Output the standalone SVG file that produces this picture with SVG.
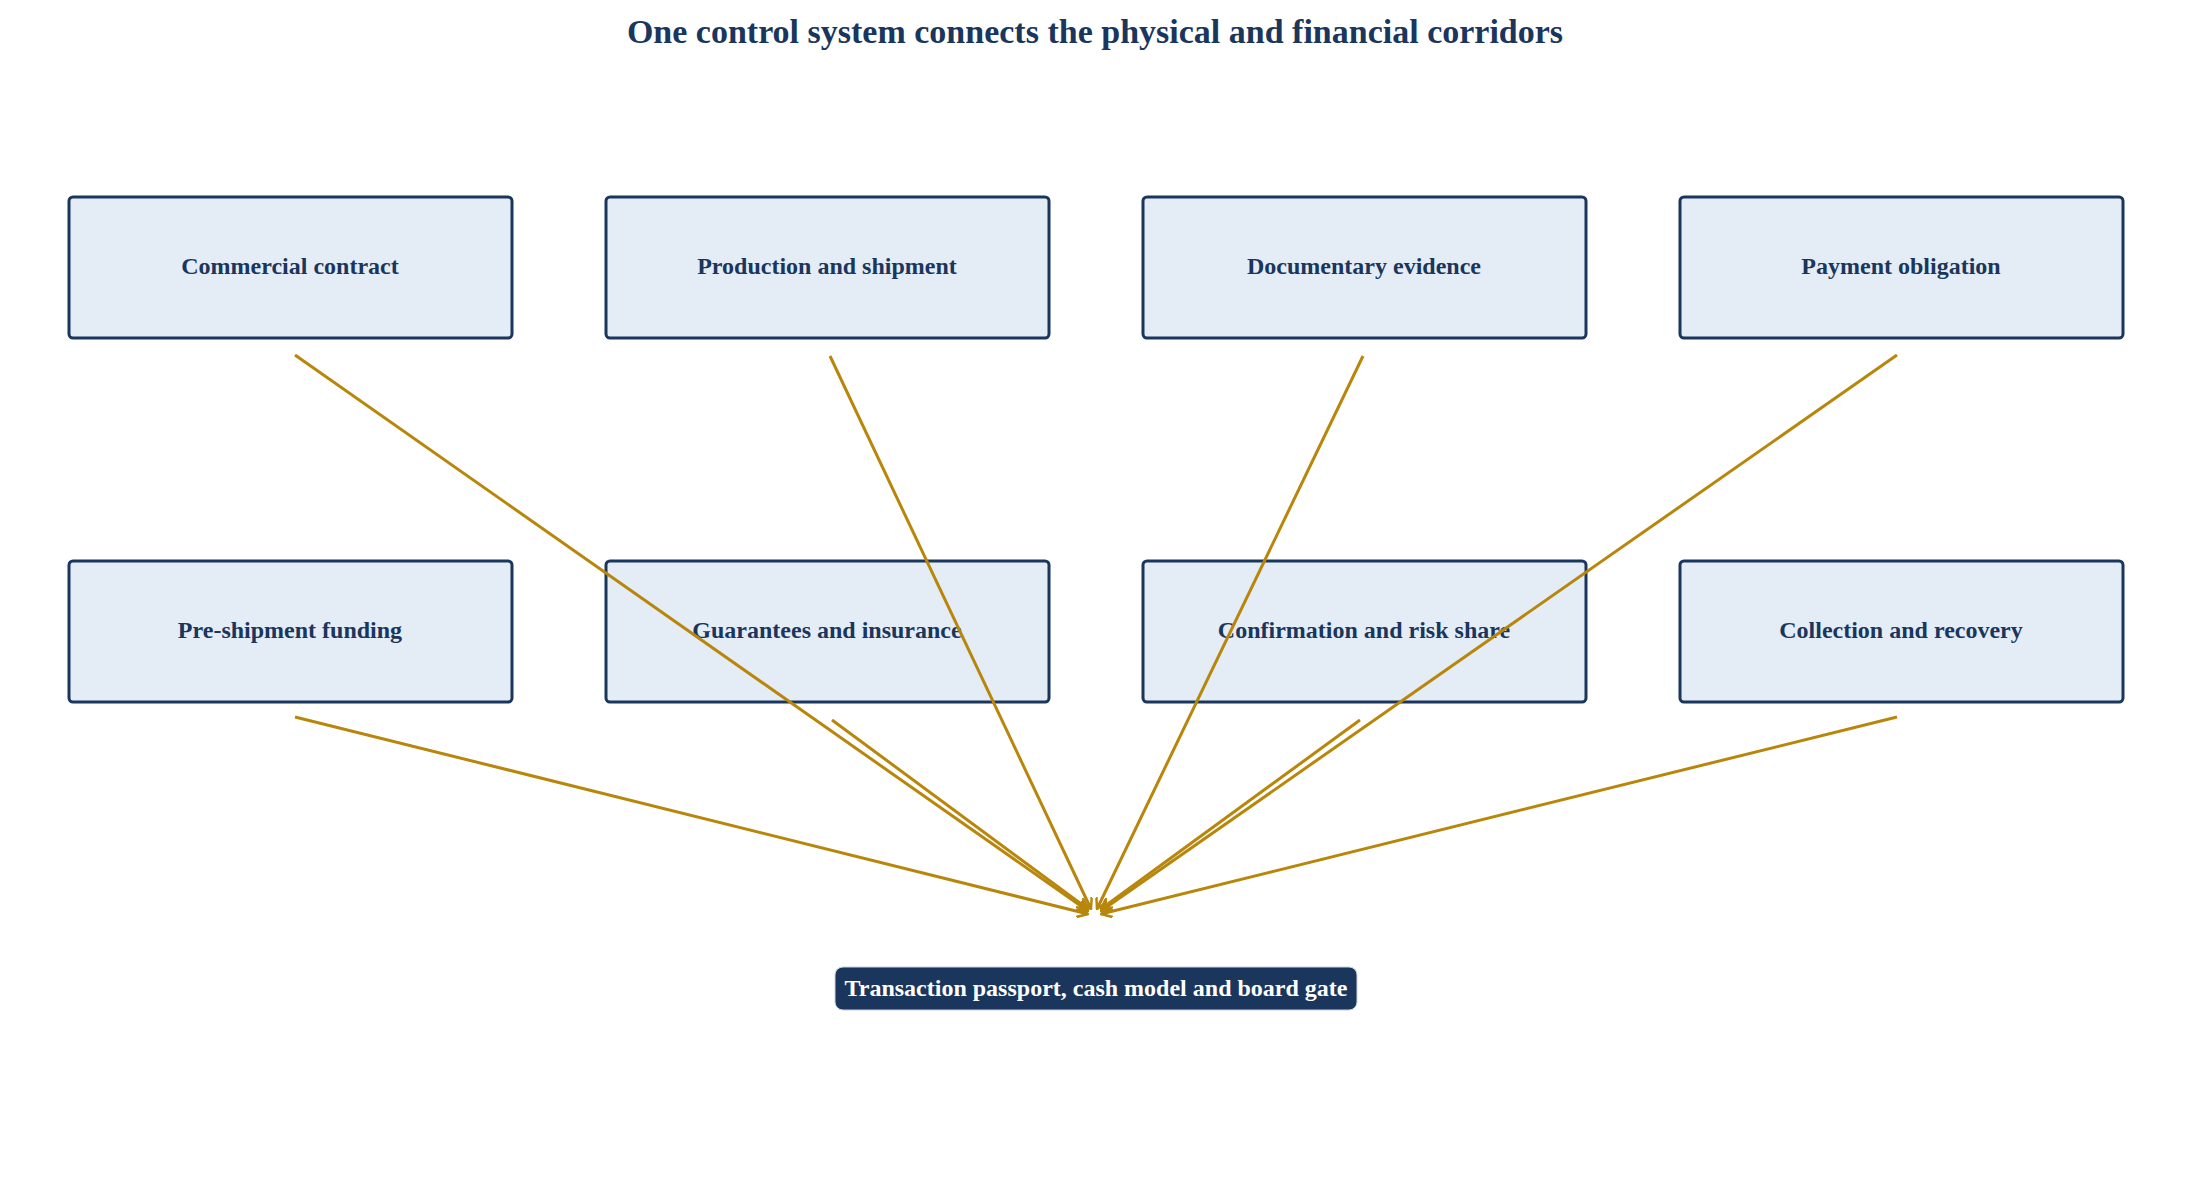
<svg xmlns="http://www.w3.org/2000/svg" width="2191" height="1201" viewBox="0 0 2191 1201">
<style>
.n rect{fill:#e4ecf6;stroke:#1a365d;stroke-width:3}
.n text{font-family:"Liberation Serif",serif;font-weight:bold;font-size:24px;fill:#1a365d;text-anchor:middle}
.c line{stroke:#b8860b;stroke-width:3}
</style>
<defs><marker id="a" viewBox="0 0 12 12" refX="11" refY="6" markerWidth="12" markerHeight="12" markerUnits="userSpaceOnUse" orient="auto"><path d="M0,0 L11,6 L0,12" fill="none" stroke="#b8860b" stroke-width="2.5"/></marker></defs>
<rect width="2191" height="1201" fill="#fff"/>
<text x="1095" y="43" font-family="Liberation Serif,serif" font-weight="bold" font-size="34" fill="#1a365d" text-anchor="middle">One control system connects the physical and financial corridors</text>
<g id="n1" class="n"><rect x="69" y="197" width="443" height="141" rx="4"/><text x="290" y="274">Commercial contract</text></g>
<g id="n2" class="n"><rect x="606" y="197" width="443" height="141" rx="4"/><text x="827" y="274">Production and shipment</text></g>
<g id="n3" class="n"><rect x="1143" y="197" width="443" height="141" rx="4"/><text x="1364" y="274">Documentary evidence</text></g>
<g id="n4" class="n"><rect x="1680" y="197" width="443" height="141" rx="4"/><text x="1901" y="274">Payment obligation</text></g>
<g id="n5" class="n"><rect x="69" y="561" width="443" height="141" rx="4"/><text x="290" y="638">Pre-shipment funding</text></g>
<g id="n6" class="n"><rect x="606" y="561" width="443" height="141" rx="4"/><text x="827" y="638">Guarantees and insurance</text></g>
<g id="n7" class="n"><rect x="1143" y="561" width="443" height="141" rx="4"/><text x="1364" y="638">Confirmation and risk share</text></g>
<g id="n8" class="n"><rect x="1680" y="561" width="443" height="141" rx="4"/><text x="1901" y="638">Collection and recovery</text></g>
<g id="hub"><rect x="835" y="967" width="522" height="43" rx="8" fill="#1a365d" stroke="#c8d3e0" stroke-width="1"/><text x="1096" y="996" font-family="Liberation Serif,serif" font-weight="bold" font-size="24" fill="#fff" text-anchor="middle">Transaction passport, cash model and board gate</text></g>
<g class="c">
<line x1="295" y1="355" x2="1088" y2="911" marker-end="url(#a)"/>
<line x1="830" y1="356" x2="1091" y2="909" marker-end="url(#a)"/>
<line x1="1363" y1="356" x2="1097" y2="909" marker-end="url(#a)"/>
<line x1="1897" y1="355" x2="1101" y2="911" marker-end="url(#a)"/>
<line x1="295" y1="717" x2="1088" y2="914" marker-end="url(#a)"/>
<line x1="832" y1="720" x2="1088" y2="909" marker-end="url(#a)"/>
<line x1="1360" y1="720" x2="1101" y2="909" marker-end="url(#a)"/>
<line x1="1897" y1="717" x2="1101" y2="914" marker-end="url(#a)"/>
</g>
</svg>
